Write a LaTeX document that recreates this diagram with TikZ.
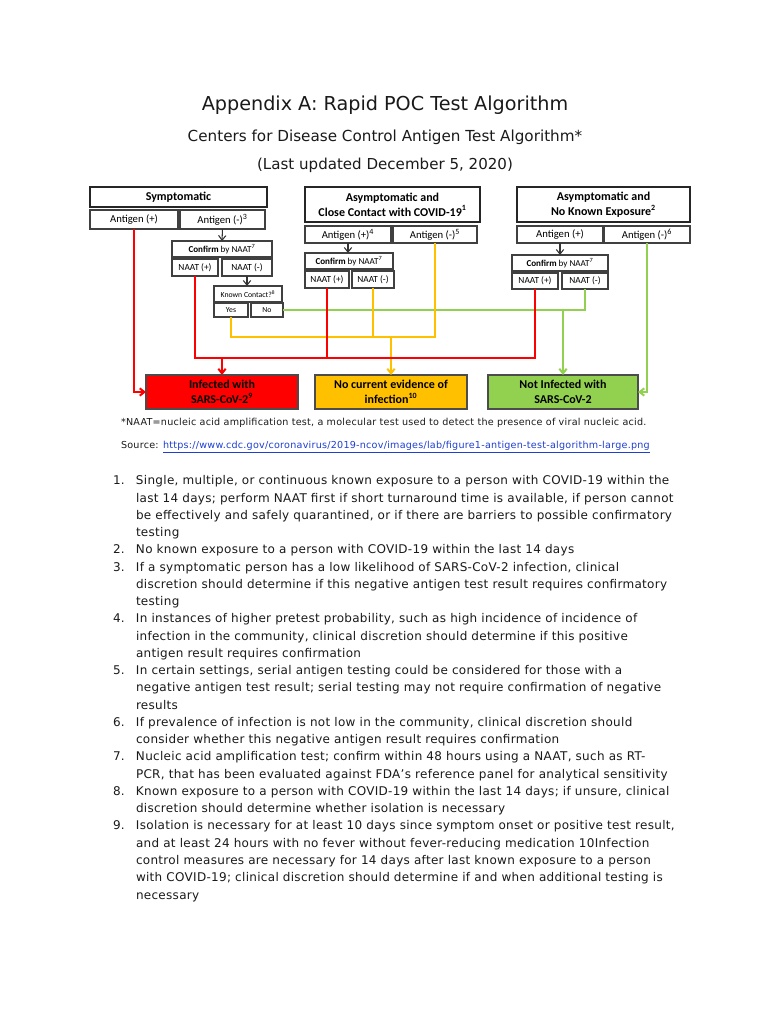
\documentclass[tikz,border=0pt]{standalone}
\usepackage{fontspec}
\setmainfont{DejaVu Sans}
\newfontfamily\carl{Carlito}
\newfontfamily\spaced[LetterSpace=2.5]{DejaVu Sans}
\usetikzlibrary{arrows.meta}
\definecolor{cred}{HTML}{FF0000}
\definecolor{corange}{HTML}{FFC000}
\definecolor{cgreen}{HTML}{92D050}
\definecolor{clink}{HTML}{1F3FD0}
\definecolor{ctext}{HTML}{1A1A1A}
\newcommand\rbox[7][]{\node[#1,minimum width={(#4-#2)*0.75pt},minimum height={(#5-#3)*0.75pt}] (#6) at ({(#2+#4)/2},{(#3+#5)/2}) {#7};}
\newcommand\lnum[1]{\makebox[17.25pt][l]{#1}}
\newcommand\lind{\hspace*{17.25pt}}
\begin{document}
\begin{tikzpicture}[x=0.75pt,y=-0.75pt,
  every node/.style={inner sep=0pt,outer sep=0pt},
  hdr/.style={draw=black!85,line width=1.1pt,fill=white,align=center,font=\carl\bfseries\fontsize{9pt}{11pt}\selectfont},
  ag/.style={draw=black!75,line width=0.8pt,fill=white,font=\carl\fontsize{8pt}{9.6pt}\selectfont},
  cf/.style={draw=black!75,line width=0.8pt,fill=white,font=\carl\fontsize{6.8pt}{8pt}\selectfont},
  nt/.style={draw=black!75,line width=0.8pt,fill=white,font=\carl\fontsize{7pt}{8pt}\selectfont},
  kc/.style={draw=black!75,line width=0.8pt,fill=white,font=\carl\fontsize{5.8pt}{7pt}\selectfont},
  outc/.style={draw=black!70,line width=0.8pt,align=center,font=\carl\bfseries\fontsize{9pt}{11pt}\selectfont},
  conn/.style={line width=1.5pt},
  blk/.style={line width=0.8pt,draw=black!80},
  tip/.style={-{Straight Barb[length=3.5pt,width=5.5pt]}},
  body/.style={text=ctext},
]
\fill[white] (0,0) rectangle (770,1024);
\useasboundingbox (0,0) rectangle (770,1024);

% titles
\node[body,font=\fontsize{14.4pt}{17pt}\selectfont] (title) at (385,105) {Appendix A: Rapid POC Test Algorithm};
\node[body,font=\fontsize{11.4pt}{14pt}\selectfont] (sub) at (385,137) {Centers for Disease Control Antigen Test Algorithm*};
\node[body,font=\fontsize{11.3pt}{14pt}\selectfont] (date) at (385,165) {(Last updated December 5, 2020)};

% symptomatic column
\rbox[hdr]{90}{187}{267}{207}{sH}{Symptomatic}
\rbox[ag]{90}{210}{178}{229}{sAP}{Antigen (+)}
\rbox[ag]{180}{210}{265}{229}{sAN}{Antigen (-)\textsuperscript{3}}
\rbox[cf]{172}{241}{272}{257}{sCF}{\textbf{Confirm} by NAAT\textsuperscript{7}}
\rbox[nt]{172}{259}{218}{276}{sNP}{NAAT (+)}
\rbox[nt]{222}{259}{272}{276}{sNN}{NAAT (-)}
\rbox[kc]{214}{286}{282}{302}{sKC}{Known Contact?\textsuperscript{8}}
\rbox[kc]{214}{303}{248}{317}{sY}{Yes}
\rbox[kc]{251}{303}{283}{317}{sN}{No}

% close contact column
\rbox[hdr]{305}{187}{480}{222}{cH}{Asymptomatic and\\Close Contact with COVID-19\textsuperscript{1}}
\rbox[ag]{305}{226}{391}{243}{cAP}{Antigen (+)\textsuperscript{4}}
\rbox[ag]{393}{226}{477}{243}{cAN}{Antigen (-)\textsuperscript{5}}
\rbox[cf]{305}{253}{393}{269}{cCF}{\textbf{Confirm} by NAAT\textsuperscript{7}}
\rbox[nt]{305}{271}{349}{288}{cNP}{NAAT (+)}
\rbox[nt]{352}{271}{394}{288}{cNN}{NAAT (-)}

% no known exposure column
\rbox[hdr]{517}{187}{690}{222}{nH}{Asymptomatic and\\No Known Exposure\textsuperscript{2}}
\rbox[ag]{517}{226}{603}{243}{nAP}{Antigen (+)}
\rbox[ag]{604}{226}{690}{243}{nAN}{Antigen (-)\textsuperscript{6}}
\rbox[cf]{512}{255}{608}{271}{nCF}{\textbf{Confirm} by NAAT\textsuperscript{7}}
\rbox[nt]{512}{273}{558}{289}{nNP}{NAAT (+)}
\rbox[nt]{562}{273}{608}{289}{nNN}{NAAT (-)}

% outcomes
\rbox[outc,fill=cred]{146}{375}{298}{409}{inf}{Infected with\\SARS-CoV-2\textsuperscript{9}}
\rbox[outc,fill=corange]{315}{375}{467}{409}{nce}{No current evidence of\\infection\textsuperscript{10}}
\rbox[outc,fill=cgreen]{488}{375}{638}{409}{ninf}{Not Infected with\\SARS-CoV-2}

% bus levels
\coordinate (obus) at (0,337);
\coordinate (rbus) at (0,358);

% black arrows
\draw[blk,tip] (sAN.south) -- (sCF.north);
\draw[blk,tip] (sNN.south) -- (sNN.south |- sKC.north);
\draw[blk,tip] (cAP.south) -- (cAP.south |- cCF.north);
\draw[blk,tip] (nAP.south) -- (nAP.south |- nCF.north);

% green
\draw[conn,draw=cgreen] (sN.east) -- (nNN.south |- sN.east) -- (nNN.south);
\draw[conn,draw=cgreen,tip] (ninf.north |- sN.east) -- (ninf.north);
\draw[conn,draw=cgreen,tip] (nAN.south) |- (ninf.east);

% orange
\draw[conn,draw=corange] (sY.south) -- (sY.south |- obus) -- (cAN.south |- obus) -- (cAN.south);
\draw[conn,draw=corange] (cNN.south) -- (cNN.south |- obus);
\draw[conn,draw=corange,tip] (nce.north |- obus) -- (nce.north);

% red
\draw[conn,draw=cred,tip] (sAP.south) |- (inf.west);
\draw[conn,draw=cred] (sNP.south) -- (sNP.south |- rbus) -- (nNP.south |- rbus) -- (nNP.south);
\draw[conn,draw=cred] (cNP.south) -- (cNP.south |- rbus);
\draw[conn,draw=cred,tip] (inf.north |- rbus) -- (inf.north);

% footnotes
\node[body,anchor=base west,font=\spaced\fontsize{7.2pt}{8.6pt}\selectfont] (fn) at (121,425) {*NAAT=nucleic acid amplification test, a molecular test used to detect the presence of viral nucleic acid.};
\node[body,anchor=base west,font=\spaced\fontsize{7.2pt}{8.6pt}\selectfont] (src) at (121,448) {Source: \textcolor{clink}{\underline{https://www.cdc.gov/coronavirus/2019-ncov/images/lab/figure1-antigen-test-algorithm-large.png}}};

% numbered list (base anchor = last line baseline)
\node[body,anchor=base west,align=left,font=\spaced\fontsize{9pt}{12.94pt}\selectfont] (list) at (113,899) {%
\lnum{1.}Single, multiple, or continuous known exposure to a person with COVID-19 within the\\
\lind last 14 days; perform NAAT first if short turnaround time is available, if person cannot\\
\lind be effectively and safely quarantined, or if there are barriers to possible confirmatory\\
\lind testing\\
\lnum{2.}No known exposure to a person with COVID-19 within the last 14 days\\
\lnum{3.}If a symptomatic person has a low likelihood of SARS-CoV-2 infection, clinical\\
\lind discretion should determine if this negative antigen test result requires confirmatory\\
\lind testing\\
\lnum{4.}In instances of higher pretest probability, such as high incidence of incidence of\\
\lind infection in the community, clinical discretion should determine if this positive\\
\lind antigen result requires confirmation\\
\lnum{5.}In certain settings, serial antigen testing could be considered for those with a\\
\lind negative antigen test result; serial testing may not require confirmation of negative\\
\lind results\\
\lnum{6.}If prevalence of infection is not low in the community, clinical discretion should\\
\lind consider whether this negative antigen result requires confirmation\\
\lnum{7.}Nucleic acid amplification test; confirm within 48 hours using a NAAT, such as RT-\\
\lind PCR, that has been evaluated against FDA’s reference panel for analytical sensitivity\\
\lnum{8.}Known exposure to a person with COVID-19 within the last 14 days; if unsure, clinical\\
\lind discretion should determine whether isolation is necessary\\
\lnum{9.}Isolation is necessary for at least 10 days since symptom onset or positive test result,\\
\lind and at least 24 hours with no fever without fever-reducing medication 10Infection\\
\lind control measures are necessary for 14 days after last known exposure to a person\\
\lind with COVID-19; clinical discretion should determine if and when additional testing is\\
\lind necessary};
\end{tikzpicture}
\end{document}
